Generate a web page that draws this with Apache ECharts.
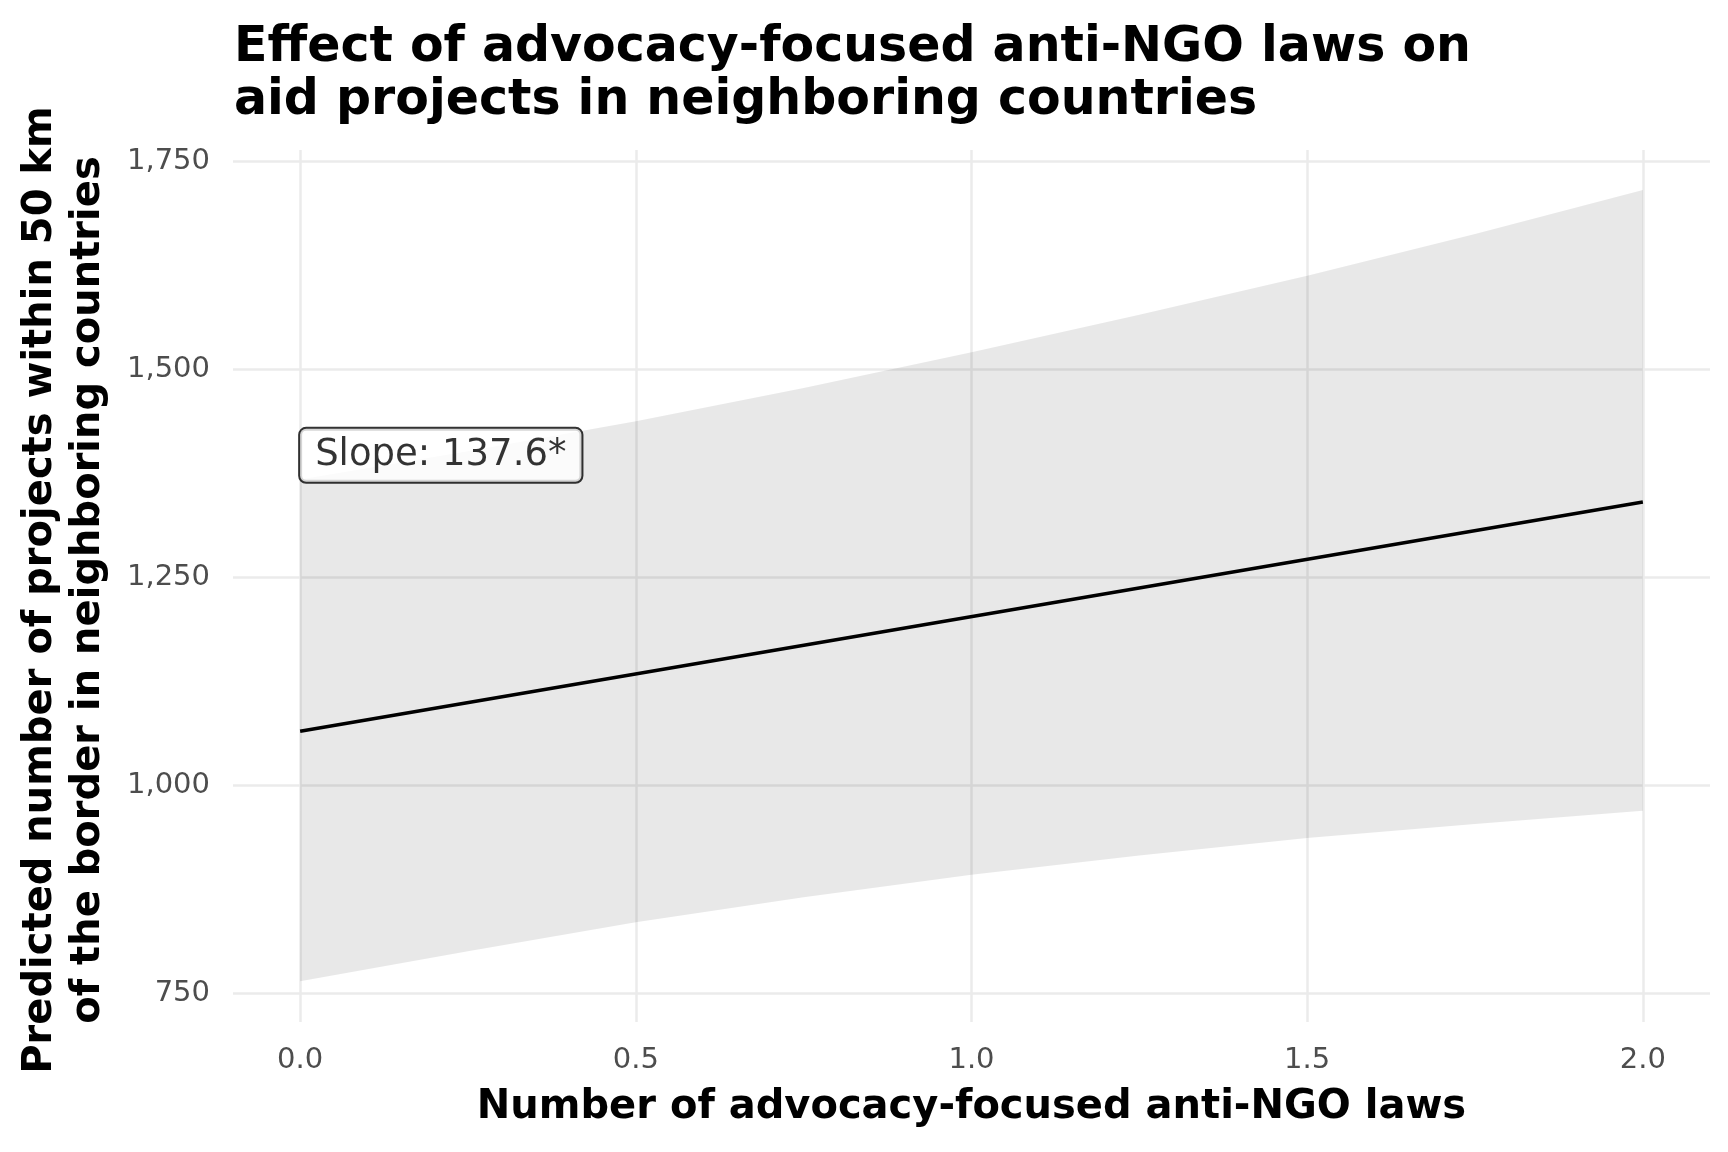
<!DOCTYPE html>
<html><head><meta charset="utf-8">
<script src="https://cdn.jsdelivr.net/npm/echarts@6/dist/echarts.min.js"></script>
<style>html,body{margin:0;padding:0;background:#fff}#c{width:1728px;height:1152px}</style>
</head><body><div id="c"></div>
<script>
// Data
const xValues = [0, 0.25, 0.5, 0.75, 1, 1.25, 1.5, 1.75, 2];
const upperCI = [1368, 1402, 1438, 1478, 1521, 1566, 1613, 1663, 1716];
const lowerCI = [765, 801, 836, 866, 893, 916, 937, 954, 970];
const fitX = [0, 2];
const fitY = [1065.5, 1341];
const xTicks = [0, 0.5, 1, 1.5, 2];
const yTicks = [750, 1000, 1250, 1500, 1750];
const annotationPoint = [0, 1397];
const annotationText = 'Slope: 137.6*';
const titleText = 'Effect of advocacy-focused anti-NGO laws on\naid projects in neighboring countries';
const xTitle = 'Number of advocacy-focused anti-NGO laws';
const yTitle = 'Predicted number of projects within 50 km\nof the border in neighboring countries';

const FONT = '"DejaVu Sans", sans-serif';
const chart = echarts.init(document.getElementById('c'), null, {renderer: 'canvas'});
const gridCol = '#ebebeb';
const bandData = xValues.map((x, i) => [x, lowerCI[i], upperCI[i]]);

chart.setOption({
  backgroundColor: '#ffffff',
  animation: false,
  title: {
    text: titleText,
    left: 229, top: 17,
    textStyle: {fontFamily: FONT, fontWeight: 700, fontSize: 49, lineHeight: 53, color: '#000'}
  },
  grid: {left: 233, right: 18, top: 150, bottom: 130, outerBoundsMode: 'none'},
  xAxis: {
    type: 'value', min: -0.1, max: 2.1,
    axisLine: {show: false},
    axisTick: {show: false, customValues: xTicks},
    axisLabel: {customValues: xTicks, formatter: v => v.toFixed(1), fontFamily: FONT, fontSize: 29, color: '#4d4d4d', margin: 24},
    splitLine: {show: true, lineStyle: {color: gridCol, width: 2.5}},
    name: xTitle, nameLocation: 'middle', nameGap: 66,
    nameTextStyle: {fontFamily: FONT, fontWeight: 700, fontSize: 40, color: '#000'}
  },
  yAxis: {
    type: 'value', min: 716, max: 1764,
    axisLine: {show: false},
    axisTick: {show: false, customValues: yTicks},
    axisLabel: {customValues: yTicks, formatter: v => v.toLocaleString('en-US'), fontFamily: FONT, fontSize: 29, color: '#4d4d4d', margin: 23},
    splitLine: {show: true, lineStyle: {color: gridCol, width: 2.5}}
  },
  graphic: [{
    type: 'text', x: 65, y: 590, rotation: Math.PI / 2,
    style: {text: yTitle, fontFamily: FONT, fontWeight: 700, fontSize: 40, lineHeight: 48,
      fill: '#000', align: 'center', verticalAlign: 'middle'}
  }],
  series: [
    {type: 'custom', name: 'band', silent: true, z: 1,
     data: bandData, encode: {x: 0, y: [1, 2]},
     renderItem: (params, api) => {
       if (params.dataIndex !== 0) return null;
       const top = bandData.map(d => api.coord([d[0], d[2]]));
       const bottom = bandData.slice().reverse().map(d => api.coord([d[0], d[1]]));
       return {type: 'polygon', shape: {points: top.concat(bottom)},
               style: {fill: 'rgba(0,0,0,0.09)'}};
     }},
    {type: 'line', name: 'fit', symbol: 'none', silent: true,
     lineStyle: {color: '#000', width: 3.5}, data: fitX.map((x, i) => [x, fitY[i]]), z: 2},
    {type: 'scatter', name: 'annotation', symbolSize: 0, silent: true, z: 5,
     data: [annotationPoint],
     label: {show: true, position: 'right', distance: 0, formatter: annotationText,
       fontFamily: FONT, fontSize: 37, lineHeight: 40, color: '#000', backgroundColor: '#fff',
       borderColor: '#000', borderWidth: 2, borderRadius: 6, padding: [6, 15, 7, 15]}}
  ]
});
</script></body></html>
